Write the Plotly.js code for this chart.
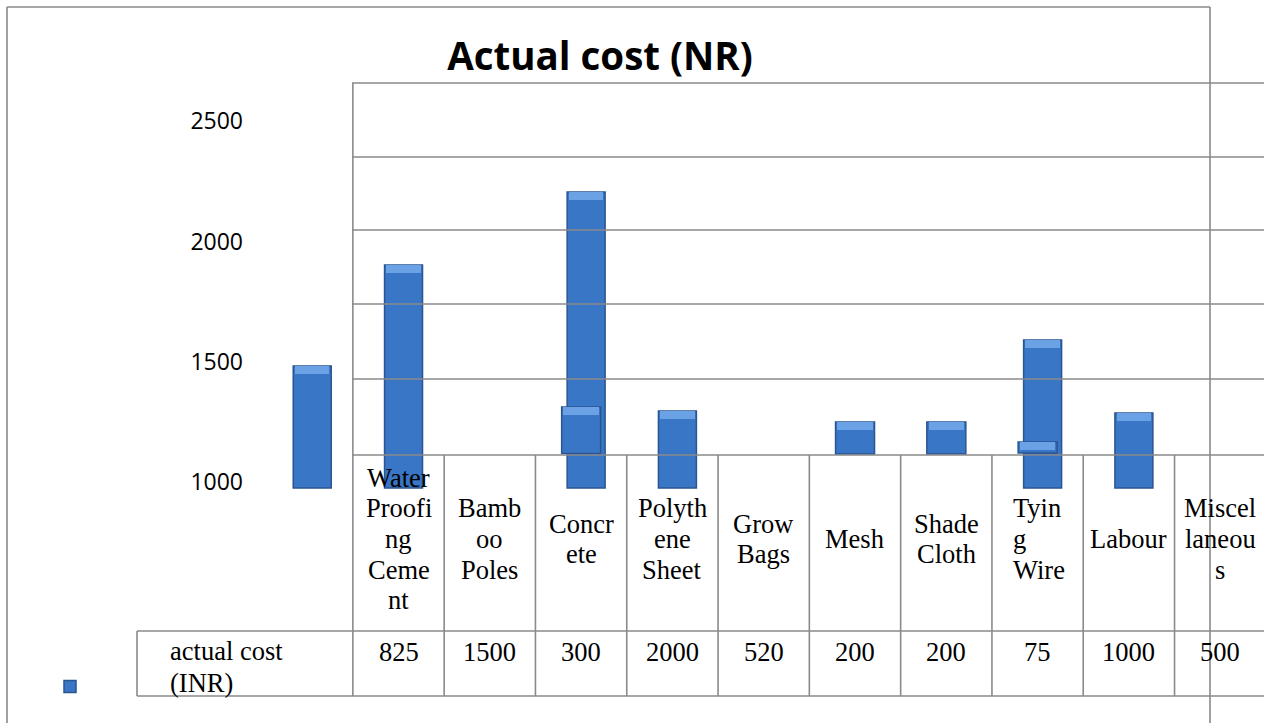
<!DOCTYPE html>
<html>
<head>
<meta charset="utf-8">
<script src="https://cdn.plot.ly/plotly-3.0.1.min.js"></script>
<style>
  html, body { margin: 0; padding: 0; background: #ffffff; }
  #chart { width: 1264px; height: 723px; }
</style>
</head>
<body>
<div id="chart"></div>
<script>
// ---------------- data ----------------
const chartTitle = 'Actual cost (NR)';
const categories = ['Water Proofing Cement', 'Bamboo Poles', 'Concrete', 'Polythene Sheet', 'Grow Bags',
                    'Mesh', 'Shade Cloth', 'Tying Wire', 'Labour', 'Miscellaneous'];
const categoryLabelLines = [
  ['Water', 'Proofi', 'ng', 'Ceme', 'nt'],
  ['Bamb', 'oo', 'Poles'],
  ['Concr', 'ete'],
  ['Polyth', 'ene', 'Sheet'],
  ['Grow', 'Bags'],
  ['Mesh'],
  ['Shade', 'Cloth'],
  ['Tyin', 'g', 'Wire'],
  ['Labour'],
  ['Miscel', 'laneou', 's']
];
const actualCost = [825, 1500, 300, 2000, 520, 200, 200, 75, 1000, 500];
const seriesName = 'actual cost (INR)';
const seriesLabelLines = ['actual cost', '(INR)'];
const yTickValues = [1000, 1500, 2000, 2500];
const yTickText = ['1000', '1500', '2000', '2500'];

// floating columns as drawn in the picture (category slot, top, base on the value scale)
const tallBarSlots = [-1, 0, 2, 3, 7, 8];
const tallBarTops  = [1483, 1903, 2206, 1296, 1591, 1288];
const tallBarBases = [976, 976, 976, 976, 976, 976];
const shortBarSlots = [2, 5, 6, 7];
const shortBarTops  = [1313, 1251, 1251, 1168];
const shortBarBases = [1120, 1118, 1118, 1122];

// ---------------- layout constants (pixels) ----------------
const W = 1264, H = 723;
const fx = x => x / W;
const fy = y => 1 - y / H;
const gridRowsPx = [83, 157, 230, 304, 379, 455];
const gridLeftPx = 352, gridRightPx = 1264;
const tableTopPx = 455, valueRowTopPx = 631, tableBottomPx = 696, tableLeftPx = 137;
const labelCenterPx = 539, labelLineStep = 30.6;
const valueCenterPx = 652;
const seriesLabelTopPx = 651;
const frame = {l: 7, t: 7, r: 1210};
const lineColor = '#8a8a8a';
const barFill = '#3a76c6', barEdge = '#2a5591', barTopLight = '#6ba2e6';
const bevelUnits = 34;

// ---------------- traces ----------------
const traces = [];
function addBars(slots, tops, bases, offset, width, showLegend) {
  traces.push({
    type: 'bar', x: slots, y: tops.map((t, i) => t - bases[i]), base: bases,
    offset: offset, width: width, name: showLegend ? ' ' : seriesName, showlegend: showLegend,
    marker: {color: barFill, line: {color: barEdge, width: 1.5}},
    hoverinfo: 'skip'
  });
  traces.push({
    type: 'bar', x: slots, y: tops.map(() => bevelUnits), base: tops.map(t => t - bevelUnits),
    offset: offset + 0.02, width: width - 0.04, showlegend: false,
    marker: {color: barTopLight, line: {width: 0}}, hoverinfo: 'skip'
  });
}
addBars(tallBarSlots, tallBarTops, tallBarBases, -0.153, 0.416, true);
addBars(shortBarSlots, shortBarTops, shortBarBases, -0.213, 0.427, false);

// ---------------- shapes ----------------
const shapes = [];
const L = (x0, y0, x1, y1, xref) => shapes.push({
  type: 'line', xref: xref || 'paper', yref: 'paper', x0: x0, x1: x1, y0: y0, y1: y1,
  line: {color: lineColor, width: 1.6}, layer: 'above'
});
// outer frame
L(fx(frame.l), fy(frame.t), fx(frame.r), fy(frame.t));
L(fx(frame.l), fy(frame.t), fx(frame.l), 0);
L(fx(frame.r), fy(frame.t), fx(frame.r), 0);
// grid rows
gridRowsPx.forEach(y => L(fx(gridLeftPx), fy(y), fx(gridRightPx), fy(y)));
// plot left edge
L(-0.5, fy(gridRowsPx[0]), -0.5, fy(tableBottomPx), 'x');
// table
categories.forEach((c, i) => { if (i > 0) L(i - 0.5, fy(tableTopPx), i - 0.5, fy(tableBottomPx), 'x'); });
L(fx(tableLeftPx), fy(valueRowTopPx), fx(gridRightPx), fy(valueRowTopPx));
L(fx(tableLeftPx), fy(tableBottomPx), fx(gridRightPx), fy(tableBottomPx));
L(fx(tableLeftPx), fy(valueRowTopPx), fx(tableLeftPx), fy(tableBottomPx));

// ---------------- annotations ----------------
const serif = {family: '"Liberation Serif", "Times New Roman", serif', size: 26.5, color: '#000000'};
const annotations = [];
categoryLabelLines.forEach((lines, i) => {
  const leftAligned = categories[i] === 'Tying Wire';
  lines.forEach((t, k) => {
    annotations.push({
      xref: 'x', yref: 'paper', x: i, y: fy(labelCenterPx + (k - (lines.length - 1) / 2) * labelLineStep),
      text: t, showarrow: false, font: serif, yanchor: 'middle',
      xanchor: leftAligned ? 'left' : 'center', xshift: leftAligned ? -27 : 0
    });
  });
});
actualCost.forEach((v, i) => annotations.push({
  xref: 'x', yref: 'paper', x: i, y: fy(valueCenterPx), text: String(v), showarrow: false,
  font: serif, xanchor: 'center', yanchor: 'middle'
}));
seriesLabelLines.forEach((t, k) => annotations.push({
  xref: 'paper', yref: 'paper', x: fx(168), y: fy(seriesLabelTopPx + k * 31.5), text: t, showarrow: false,
  font: serif, xanchor: 'left', yanchor: 'middle'
}));

// ---------------- layout ----------------
const layout = {
  width: W, height: H,
  margin: {l: 0, r: 0, t: 0, b: 0, pad: 0},
  paper_bgcolor: '#ffffff', plot_bgcolor: 'rgba(0,0,0,0)',
  title: {
    text: chartTitle, x: fx(600), xanchor: 'center', y: fy(57), yanchor: 'middle',
    xref: 'paper', yref: 'container',
    font: {family: '"Open Sans", sans-serif', size: 38.5, weight: 700, color: '#000000'}
  },
  barmode: 'overlay',
  bargap: 0,
  xaxis: {
    type: 'linear', range: [-4.365, 9.48], domain: [0, 1],
    showgrid: false, zeroline: false, showline: false, showticklabels: false, ticks: '', fixedrange: true
  },
  yaxis: {
    range: [0, 3004], domain: [0, 1], anchor: 'free', position: fx(243),
    tickvals: yTickValues, ticktext: yTickText, ticks: '',
    showgrid: false, zeroline: false, showline: false, fixedrange: true,
    tickfont: {family: '"Open Sans", sans-serif', size: 23, color: '#000000'}
  },
  showlegend: true,
  legend: {
    x: fx(50), xanchor: 'left', y: fy(687), yanchor: 'middle',
    bgcolor: 'rgba(0,0,0,0)', borderwidth: 0,
    font: {family: '"Open Sans", sans-serif', size: 14, color: '#000000'}
  },
  shapes: shapes,
  annotations: annotations
};

Plotly.newPlot('chart', traces, layout, {displayModeBar: false, staticPlot: true});
</script>
</body>
</html>
